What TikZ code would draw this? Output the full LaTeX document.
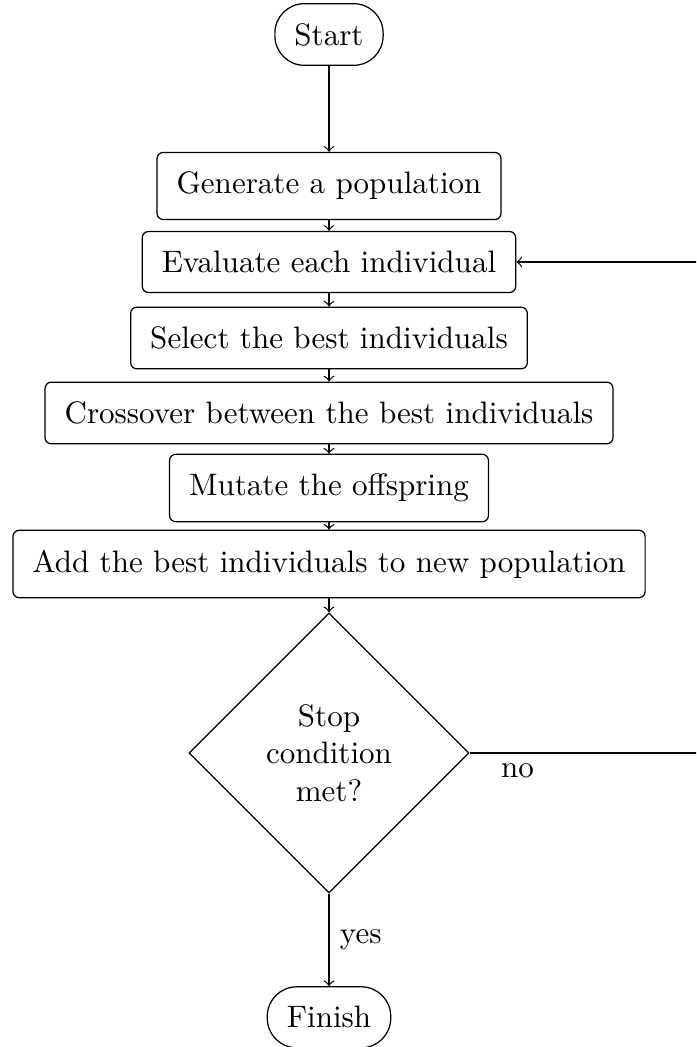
\documentclass[tikz,border=0pt]{standalone}
\usetikzlibrary{shapes.geometric}
\begin{document}
\begin{tikzpicture}[
  x=0.322pt, y=-0.322pt,
  terminal/.style={draw, rectangle, rounded corners=9.5pt, inner sep=6.3pt},
  process/.style={draw, rectangle, rounded corners=2pt, inner sep=6.3pt},
  decision/.style={draw, diamond, aspect=1, minimum size=90.2pt, inner sep=0pt, align=center},
  flow/.style={->}
]
\useasboundingbox (0,0) rectangle (696,1047);
\clip (0,0) rectangle (696,1047);

\node[terminal] (start) at (329,34.5) {Start};
\node[process] (gen) at (329,186) {Generate a population};
\node[process] (eval) at (329,262) {Evaluate each individual};
\node[process] (sel) at (329,338) {Select the best individuals};
\node[process] (cross) at (329,413) {Crossover between the best individuals};
\node[process] (mut) at (329,488) {Mutate the offspring};
\node[process] (add) at (329,564) {Add the best individuals to new population};
\node[decision] (dec) at (329,753) {Stop\\condition\\met?};
\node[terminal] (fin) at (329,1017.3) {Finish};

% loop back point, outside the visible frame
\coordinate (turn) at (740,262);

\draw[flow] (start) -- (gen);
\draw[flow] (gen) -- (eval);
\draw[flow] (eval) -- (sel);
\draw[flow] (sel) -- (cross);
\draw[flow] (cross) -- (mut);
\draw[flow] (mut) -- (add);
\draw[flow] (add) -- (dec);
\draw[flow] (dec) -- node[right] {yes} (fin);
\draw[flow] (dec.east) -- node[below, pos=0.177] {no} (dec.east -| turn) -- (turn) -- (eval.east);
\end{tikzpicture}
\end{document}
